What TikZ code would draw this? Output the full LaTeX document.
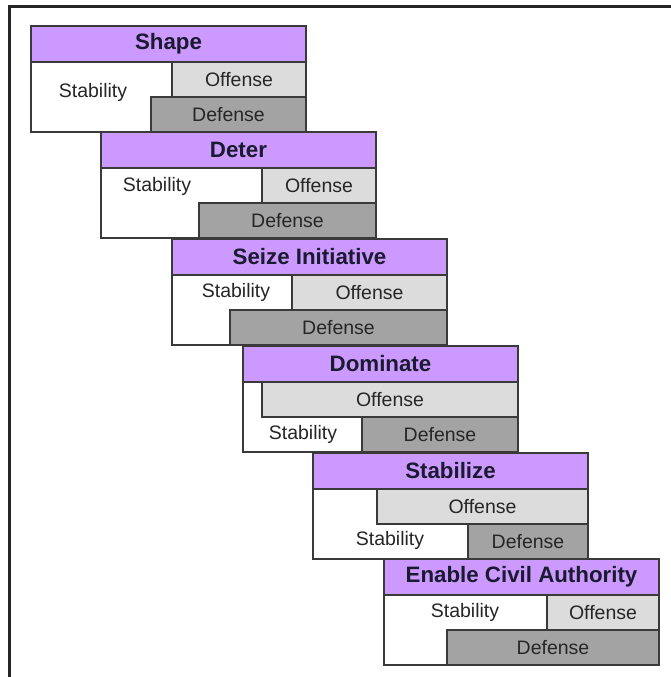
\documentclass[tikz,border=0pt]{standalone}
\usepackage{fontspec}
\setmainfont{Liberation Sans}
\definecolor{phasepurple}{HTML}{CC99FF}
\definecolor{offgray}{HTML}{DCDCDC}
\definecolor{defgray}{HTML}{A3A3A3}
\definecolor{edgegray}{HTML}{3A3A3A}
\definecolor{titleink}{HTML}{1A1A30}
\begin{document}
\begin{tikzpicture}[
        x=1pt, y=-1pt,
        box/.style={draw=edgegray, line width=1.4pt, anchor=north west, inner sep=0pt, outer sep=0pt,
            minimum height=35pt, text=black!85, font=\fontsize{19.5}{22}\selectfont},
        phase/.style={box, fill=phasepurple, minimum width=275pt, minimum height=36pt,
            text=titleink, font=\bfseries\fontsize{22.3}{24}\selectfont},
        body/.style={box, fill=white, minimum width=275pt, minimum height=70pt},
        offense/.style={box, fill=offgray, minimum width=#1},
        defense/.style={box, fill=defgray, minimum width=#1},
        stab/.style={inner sep=0pt, text=black!85, font=\fontsize{19.5}{22}\selectfont}
    ]
    \useasboundingbox (0,0) rectangle (671,677);
    % outer frame (top and left only)
    \coordinate (frameR) at (671,6.5);
    \coordinate (frameC) at (9.5,6.5);
    \coordinate (frameB) at (9.5,677);
    \draw[black!85, line width=2.2pt] (frameR) -- (frameC) -- (frameB);

    % Shape
    \node[body] (shapeBody) at (31,62) {};
    \node[offense=134pt] (shapeOff) at (172,62) {Offense};
    \node[defense=155pt] (shapeDef) at (151,97) {Defense};
    \node[stab] (shapeStab) at (93,92) {Stability};
    \node[phase] (shape) at (31,26) {Shape};

    % Deter
    \node[body] (deterBody) at (101,168) {};
    \node[offense=114pt] (deterOff) at (262,168) {Offense};
    \node[defense=177pt] (deterDef) at (199,203) {Defense};
    \node[stab] (deterStab) at (157,186) {Stability};
    \node[phase] (deter) at (101,132) {Deter};

    % Seize Initiative
    \node[body] (seizeBody) at (172,275) {};
    \node[offense=155pt] (seizeOff) at (292,275) {Offense};
    \node[defense=217pt] (seizeDef) at (230,310) {Defense};
    \node[stab] (seizeStab) at (236,292) {Stability};
    \node[phase] (seize) at (172,239) {Seize Initiative};

    % Dominate
    \node[body] (domBody) at (243,382) {};
    \node[offense=256pt] (domOff) at (262,382) {Offense};
    \node[defense=156pt] (domDef) at (362,417) {Defense};
    \node[stab] (domStab) at (303,434) {Stability};
    \node[phase] (dom) at (243,346) {Dominate};

    % Stabilize
    \node[body] (stabBody) at (313,489) {};
    \node[offense=211pt] (stabOff) at (377,489) {Offense};
    \node[defense=120pt] (stabDef) at (468,524) {Defense};
    \node[stab] (stabStab) at (390,540) {Stability};
    \node[phase] (stabil) at (313,453) {Stabilize};

    % Enable Civil Authority
    \node[body] (civBody) at (384,595) {};
    \node[offense=112pt] (civOff) at (547,595) {Offense};
    \node[defense=212pt] (civDef) at (447,630) {Defense};
    \node[stab] (civStab) at (465,612) {Stability};
    \node[phase] (civ) at (384,559) {Enable Civil Authority};
\end{tikzpicture}
\end{document}
